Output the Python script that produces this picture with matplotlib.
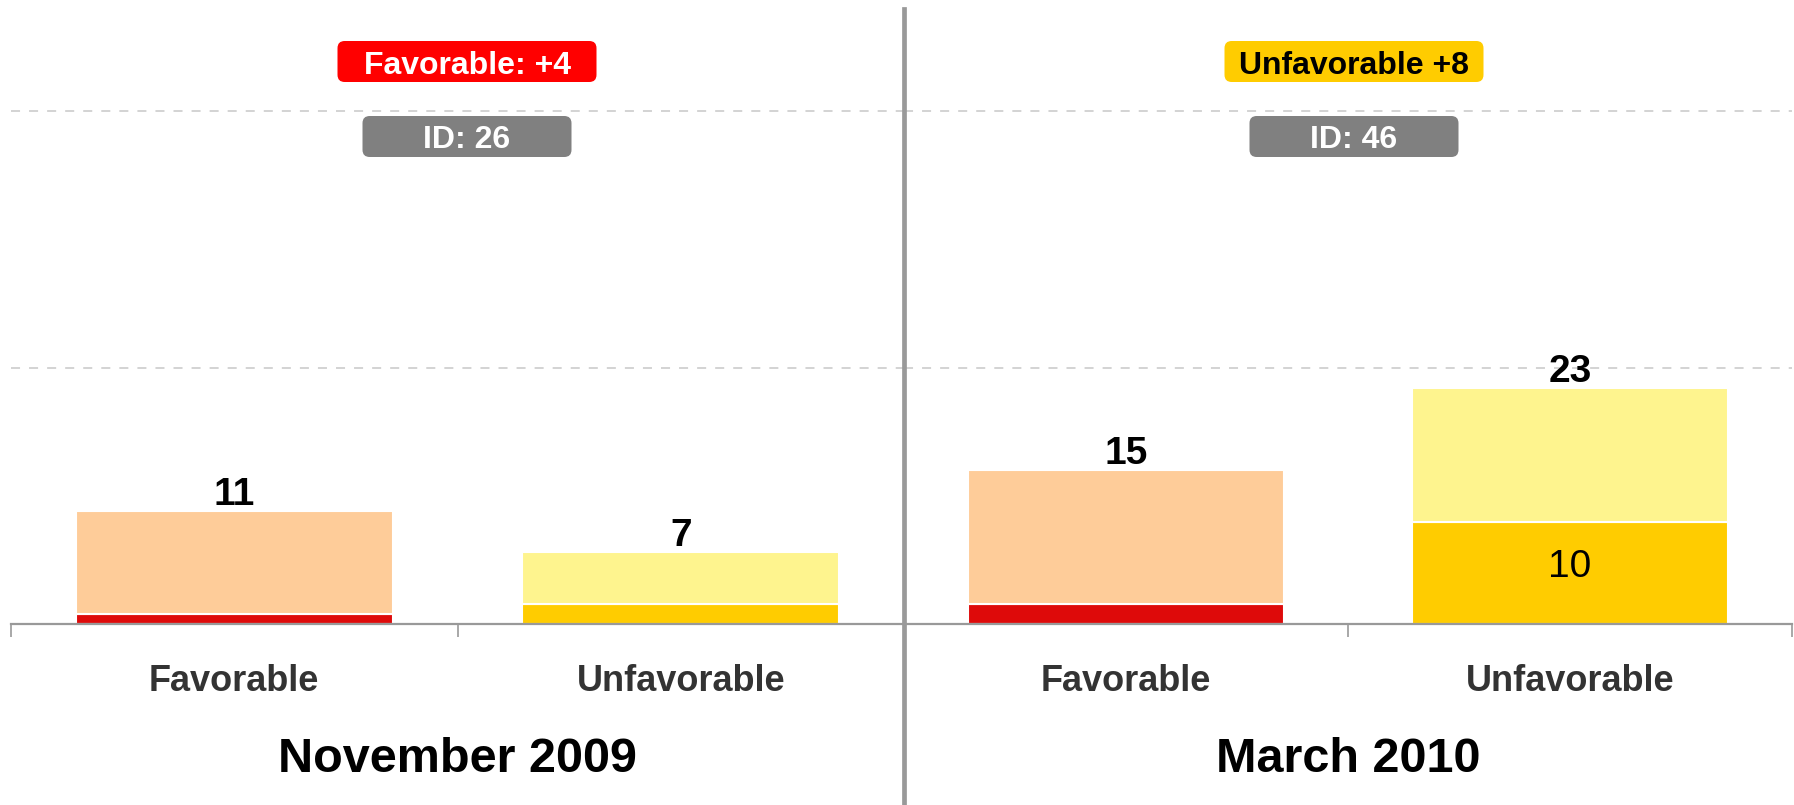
import matplotlib.pyplot as plt
from matplotlib.patches import FancyBboxPatch
from matplotlib.lines import Line2D

plt.rcParams['font.family'] = ['Liberation Sans', 'DejaVu Sans']

periods = ["November 2009", "March 2010"]
categories = ["Favorable", "Unfavorable"]
strong = [[1, 2], [2, 10]]      # dark bottom segment
total = [[11, 7], [15, 23]]     # full bar height
badges = ["Favorable: +4", "Unfavorable +8"]
ids = ["ID: 26", "ID: 46"]

dark_colors = ["#DE0A0A", "#FFCC00"]
light_colors = ["#FECC99", "#FEF48E"]
badge_colors = ["#FF0000", "#FFCC00"]
badge_text = ["white", "black"]

W, H = 1794, 805
fig = plt.figure(figsize=(W / 100, H / 100), dpi=100)


def fx(px):
    return px / W


def fy(py):
    return 1 - py / H


base, top = 624, 9
panels = [(11, 904), (904, 1792)]
badge_x = [467, 1354]

for i, (x0, x1) in enumerate(panels):
    ax = fig.add_axes([fx(x0), fy(base), fx(x1 - x0), (base - top) / H])
    xs = range(len(categories))
    lows = strong[i]
    highs = [t - s for t, s in zip(total[i], strong[i])]
    ax.bar(xs, lows, width=0.71, color=dark_colors, edgecolor="white", linewidth=1.5)
    ax.bar(xs, highs, bottom=lows, width=0.71, color=light_colors,
           edgecolor="white", linewidth=1.5)
    for x, t, s in zip(xs, total[i], strong[i]):
        ax.annotate(str(t), (x, t), xytext=(0, -1), textcoords="offset points",
                    ha="center", va="bottom", fontsize=28, fontweight="bold")
        if s >= 5:
            ax.annotate(str(s), (x, s / 2), xytext=(0, 4), textcoords="offset points",
                        ha="center", va="center", fontsize=28)
    ax.set_xlim(-0.5, 1.5)
    ax.set_ylim(0, 60)
    ax.set_yticks([25, 50])
    ax.set_yticklabels([])
    ax.tick_params(axis="y", length=0)
    ax.grid(axis="y", linestyle=(0, (5, 5)), color="#d0d0d0", linewidth=1.3)
    ax.set_axisbelow(True)
    ax.set_xticks([-0.5, 0.5, 1.5])
    ax.set_xticklabels([])
    ax.tick_params(axis="x", which="major", length=9, width=1.2, color="#999999")
    ax.set_xticks(list(xs), minor=True)
    ax.set_xticklabels(categories, minor=True, fontsize=26, fontweight="bold",
                       color="#333333")
    ax.tick_params(axis="x", which="minor", length=0, pad=29)
    for s in ["left", "right", "top"]:
        ax.spines[s].set_visible(False)
    ax.spines["bottom"].set_color("#999999")
    ax.spines["bottom"].set_linewidth(1.6)
    ax.patch.set_alpha(0)

    fig.text(fx((x0 + x1) / 2), fy(759), periods[i], ha="center", va="center",
             fontsize=35, fontweight="bold")

    # badges
    bx = badge_x[i]
    for (label, wpx, cy, fc, tc, fs) in [
        (badges[i], 259, 62, badge_colors[i], badge_text[i], 23),
        (ids[i], 209, 137, "#808080", "white", 23),
    ]:
        box = FancyBboxPatch((fx(bx - wpx / 2), fy(cy + 20)), fx(wpx), 41 / H,
                             boxstyle="round,pad=0,rounding_size=0.004",
                             transform=fig.transFigure, facecolor=fc,
                             edgecolor="none", mutation_aspect=W / H)
        fig.patches.append(box)
        fig.text(fx(bx), fy(cy), label, ha="center", va="center_baseline",
                 fontsize=fs, fontweight="bold", color=tc)

fig.lines.append(Line2D([fx(904), fx(904)], [fy(top), 0], transform=fig.transFigure,
                        color="#999999", linewidth=3.4))

fig.savefig("out.png", dpi=100)
